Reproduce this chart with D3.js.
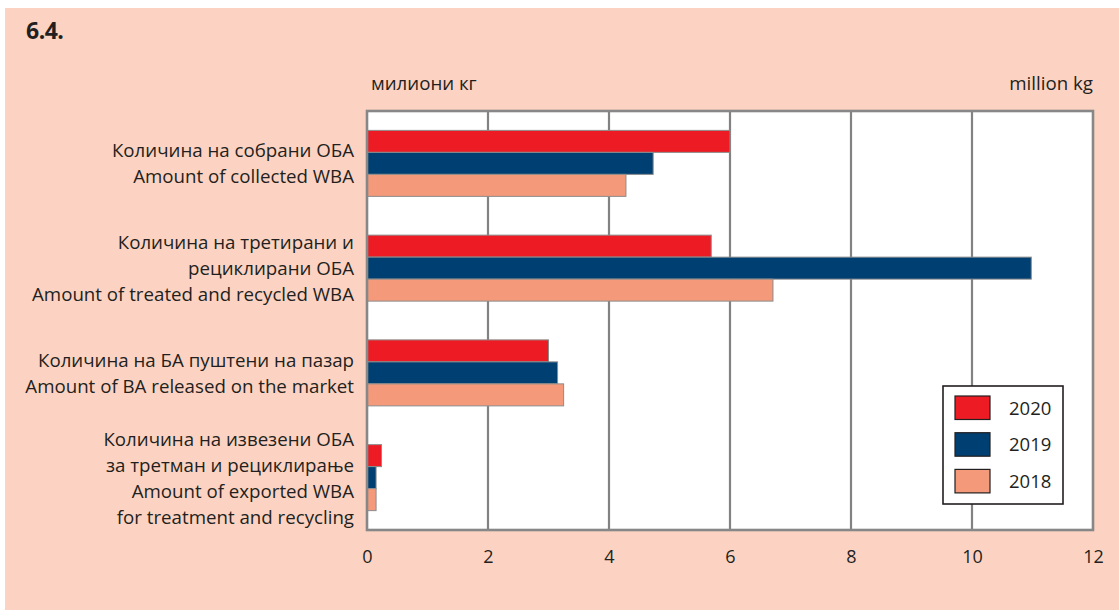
<!DOCTYPE html>
<html>
<head>
<meta charset="utf-8">
<script src="https://cdn.jsdelivr.net/npm/d3@7"></script>
<style>
  html, body { margin: 0; padding: 0; background: #ffffff; }
  svg { display: block; }
  text { font-family: "Open Sans", "Noto Sans", sans-serif; fill: #231f20; }
</style>
</head>
<body>
<svg id="chart" width="1119" height="610"></svg>
<script>
// Waste batteries and accumulators (WBA), million kg
const categories = [
  ["Количина на собрани ОБА", "Amount of collected WBA"],
  ["Количина на третирани и", "рециклирани ОБА", "Amount of treated and recycled WBA"],
  ["Количина на БА пуштени на пазар", "Amount of BA released on the market"],
  ["Количина на извезени ОБА", "за третман и рециклирање", "Amount of exported WBA", "for treatment and recycling"]
];
const years = ["2020", "2019", "2018"];
const values2020 = [6.0, 5.69, 3.0, 0.24];
const values2019 = [4.73, 10.98, 3.15, 0.15];
const values2018 = [4.28, 6.71, 3.25, 0.15];
const xTicks = [0, 2, 4, 6, 8, 10, 12];

const seriesValues = { "2020": values2020, "2019": values2019, "2018": values2018 };
const colors = { "2020": "#ed1c24", "2019": "#003f72", "2018": "#f4997a" };

const svg = d3.select("#chart");

// peach panel
svg.append("rect").attr("x", 5).attr("y", 8).attr("width", 1114).attr("height", 602)
  .attr("fill", "#fcd3c2");

svg.append("text").attr("x", 26).attr("y", 39)
  .style("font-size", "23px").style("font-weight", "bold")
  .style("letter-spacing", "-0.5px").text("6.4.");

const plot = { left: 367, right: 1093, top: 111, bottom: 530 };

const x = d3.scaleLinear().domain([0, 12]).range([plot.left, plot.right]);
const y = d3.scaleBand().domain(d3.range(categories.length))
  .range([plot.top, plot.bottom]).paddingInner(0.37).paddingOuter(0.185);
const yInner = d3.scaleBand().domain(years).range([0, y.bandwidth()]);

// plot background
svg.append("rect").attr("x", plot.left).attr("y", plot.top)
  .attr("width", plot.right - plot.left).attr("height", plot.bottom - plot.top)
  .attr("fill", "#ffffff");

// vertical grid lines
svg.append("g").selectAll("line").data(xTicks.slice(1, -1)).join("line")
  .attr("x1", d => x(d)).attr("x2", d => x(d))
  .attr("y1", plot.top).attr("y2", plot.bottom)
  .attr("stroke", "#828282").attr("stroke-width", 2.2);

// bars
const groups = svg.append("g").selectAll("g").data(categories).join("g")
  .attr("transform", (d, i) => `translate(0,${y(i)})`);
groups.each(function (d, i) {
  d3.select(this).selectAll("rect").data(years).join("rect")
    .attr("x", x(0))
    .attr("y", yr => yInner(yr))
    .attr("width", yr => x(seriesValues[yr][i]) - x(0))
    .attr("height", yInner.bandwidth())
    .attr("fill", yr => colors[yr])
    .attr("stroke", "#8c8c8c").attr("stroke-width", 1);
});

// plot frame
svg.append("rect").attr("x", plot.left).attr("y", plot.top)
  .attr("width", plot.right - plot.left).attr("height", plot.bottom - plot.top)
  .attr("fill", "none").attr("stroke", "#878787").attr("stroke-width", 2.6);

// category labels
const lineH = 26;
categories.forEach((lines, i) => {
  const cy = y(i) + y.bandwidth() / 2;
  const first = cy - (lines.length - 1) * lineH / 2;
  svg.append("text").attr("text-anchor", "end")
    .style("font-size", "18.7px")
    .selectAll("tspan").data(lines).join("tspan")
    .attr("x", 354)
    .attr("y", (d, k) => first + k * lineH + 7)
    .text(d => d);
});

// x axis labels
const xAxis = d3.axisBottom(x).tickValues(xTicks).tickSize(0).tickPadding(20)
  .tickFormat(d3.format("d"));
const gx = svg.append("g").attr("transform", `translate(0,${plot.bottom})`).call(xAxis);
gx.select(".domain").remove();
gx.selectAll("text").style("font-size", "18px")
  .style("font-family", "'Open Sans', sans-serif").attr("fill", "#231f20");

// unit labels
svg.append("text").attr("x", 371).attr("y", 90).style("font-size", "18.7px").text("милиони кг");
svg.append("text").attr("x", 1093).attr("y", 90).attr("text-anchor", "end")
  .style("font-size", "18.7px").text("million kg");

// legend
const legend = svg.append("g");
legend.append("rect").attr("x", 943).attr("y", 386).attr("width", 120).attr("height", 118)
  .attr("fill", "#ffffff").attr("stroke", "#231f20").attr("stroke-width", 1.6);
const items = legend.selectAll("g.item").data(years).join("g").attr("class", "item")
  .attr("transform", (d, i) => `translate(0,${396 + i * 36.7})`);
items.append("rect").attr("x", 955).attr("y", 0).attr("width", 35).attr("height", 23.5)
  .attr("fill", d => colors[d]).attr("stroke", "#231f20").attr("stroke-width", 1.2);
items.append("text").attr("x", 1009).attr("y", 18.5).style("font-size", "18.5px").text(d => d);
</script>
</body>
</html>
